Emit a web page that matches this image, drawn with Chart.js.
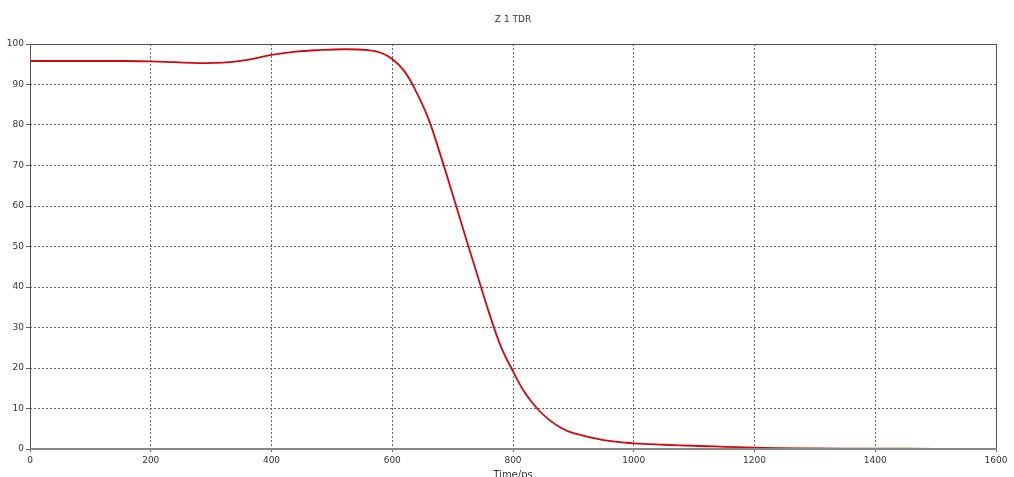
<!DOCTYPE html>
<html>
<head>
<meta charset="utf-8">
<script src="https://cdn.jsdelivr.net/npm/chart.js@4/dist/chart.umd.min.js"></script>
<style>
  html, body { margin: 0; padding: 0; background: #fff; }
  #wrap { width: 1014px; height: 477px; }
</style>
</head>
<body>
<div id="wrap"><canvas id="tdr" width="1014" height="477"></canvas></div>
<script>
// values
const chartTitle = "Z 1 TDR";
const xLabel = "Time/ps";
const timePs = [0, 40, 80, 120, 160, 200, 240, 280, 320, 360, 400, 440, 480, 520, 560,
  580, 600, 620, 640, 660, 680, 700, 720, 740, 760, 780, 800, 820, 840, 860, 880, 900,
  950, 1000, 1050, 1100, 1200, 1300, 1400, 1500, 1600];
const tdrValues = [95.8, 95.8, 95.8, 95.8, 95.8, 95.7, 95.5, 95.3, 95.4, 96.1, 97.3, 98.1, 98.5, 98.7, 98.5,
  97.9, 96.3, 93.3, 88.1, 81.5, 72.5, 62.9, 53, 43.4, 33.8, 25.3, 19.2, 13.8, 10, 7.2, 5.2, 3.9,
  2.2, 1.4, 1.05, 0.8, 0.35, 0.15, 0.08, 0.04, 0.02];
const xTicks = [0, 200, 400, 600, 800, 1000, 1200, 1400, 1600];
const yTicks = [0, 10, 20, 30, 40, 50, 60, 70, 80, 90, 100];

const points = timePs.map((t, i) => ({ x: t, y: tdrValues[i] }));
const font = { family: "DejaVu Sans", size: 9 };

const frame = {
  id: "frame",
  afterDraw(chart) {
    const { ctx, chartArea: a } = chart;
    ctx.save();
    ctx.strokeStyle = "#555";
    ctx.lineWidth = 1;
    ctx.strokeRect(a.left + 0.5, a.top + 0.5, a.right - a.left, a.bottom - a.top);
    ctx.strokeStyle = "#888";
    ctx.lineWidth = 2;
    ctx.beginPath();
    ctx.moveTo(a.left, a.bottom);
    ctx.lineTo(a.right + 1, a.bottom);
    ctx.stroke();
    ctx.fillStyle = "#333";
    ctx.font = "9px 'DejaVu Sans'";
    ctx.textAlign = "center";
    ctx.textBaseline = "middle";
    const cx = (a.left + a.right) / 2;
    ctx.fillText(chartTitle, cx, 20);
    ctx.font = "10px 'DejaVu Sans'";
    ctx.fillText(xLabel, cx, 475);
    ctx.restore();
  }
};

new Chart(document.getElementById("tdr"), {
  type: "line",
  data: {
    datasets: [{
      data: points,
      borderColor: "rgb(208, 8, 16)",
      borderWidth: 1.8,
      pointRadius: 0,
      tension: 0.4,
      fill: false
    }]
  },
  options: {
    responsive: false,
    animation: false,
    layout: { padding: { top: 44, right: 18, left: 0, bottom: 0 } },
    plugins: { legend: { display: false }, tooltip: { enabled: false } },
    scales: {
      x: {
        type: "linear",
        min: 0,
        max: 1600,
        afterFit: (s) => { s.height = 28; },
        afterBuildTicks: (s) => { s.ticks = xTicks.map(v => ({ value: v })); },
        ticks: { font, color: "#333", padding: 3, maxRotation: 0, callback: (v) => String(v) },
        grid: { color: "#666", tickLength: 3, tickBorderDash: [] },
        border: { display: false, dash: [2, 2] }
      },
      y: {
        min: 0,
        max: 100,
        afterFit: (s) => { s.width = 30; },
        afterBuildTicks: (s) => { s.ticks = yTicks.map(v => ({ value: v })); },
        ticks: { font, color: "#333", padding: 2, callback: (v) => String(v) },
        grid: { color: "#666", tickLength: 4, tickBorderDash: [] },
        border: { display: false, dash: [2, 2] }
      }
    }
  },
  plugins: [frame]
});
</script>
</body>
</html>
